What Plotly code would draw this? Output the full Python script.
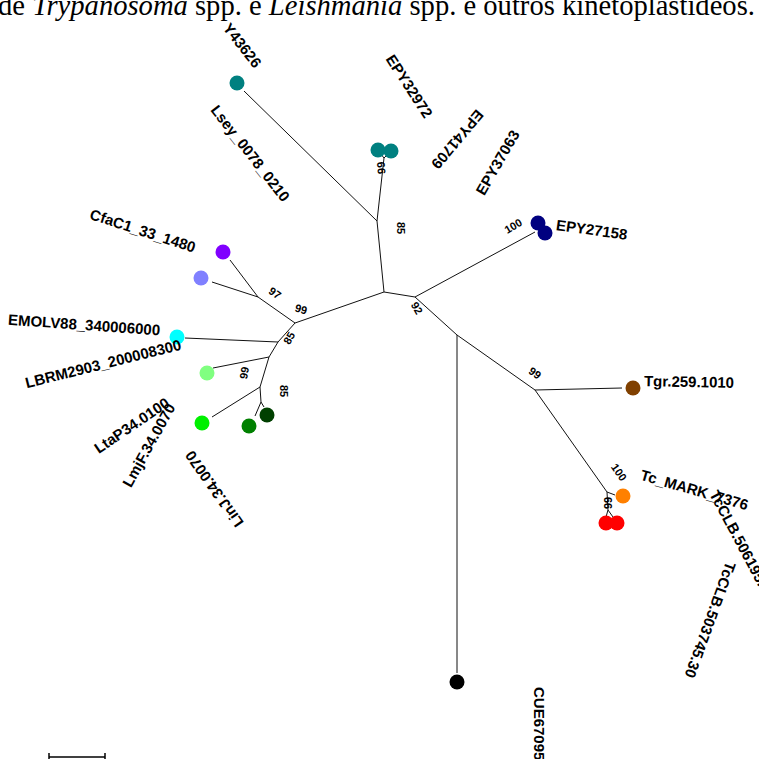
import plotly.graph_objects as go

# ---- tree layout: node coordinates (drawing units, y grows downward) ----
node_pos = {
    "A": (384, 292), "B": (377, 221), "E": (384, 158),
    "C": (295, 323), "F": (258, 297), "G": (278, 342),
    "H": (269, 357), "I": (260, 387), "J": (261, 402),
    "D": (415, 297), "K": (457, 335), "L": (535, 390),
    "M": (607, 492), "N": (608, 510),
    # branch ends at the tips
    "t_lsey": (244, 91), "t_e1": (380, 153), "t_e2": (388, 154),
    "t_purple": (230, 260), "t_lav": (212, 282), "t_cyan": (185, 338),
    "t_lgreen": (213, 368), "t_bgreen": (212, 417), "t_green": (255, 416),
    "t_dgreen": (264, 407), "t_navy": (535, 232), "t_cue": (457, 673),
    "t_tgr": (622, 388), "t_orange": (615, 495), "t_red1": (606, 517),
    "t_red2": (613, 517),
}

branches = [
    ("A", "B"), ("B", "t_lsey"), ("B", "E"), ("E", "t_e1"), ("E", "t_e2"),
    ("A", "C"), ("C", "F"), ("F", "t_purple"), ("F", "t_lav"),
    ("C", "G"), ("G", "t_cyan"), ("G", "H"), ("H", "t_lgreen"),
    ("H", "I"), ("I", "t_bgreen"), ("I", "J"), ("J", "t_green"), ("J", "t_dgreen"),
    ("A", "D"), ("D", "t_navy"), ("D", "K"), ("K", "t_cue"), ("K", "L"),
    ("L", "t_tgr"), ("L", "M"), ("M", "t_orange"), ("M", "N"),
    ("N", "t_red1"), ("N", "t_red2"),
]

# ---- tips (coloured circles) ----
tip_x = [237, 378, 391, 538, 545, 223, 201, 177, 207, 202, 249, 267, 457, 633, 623, 606, 617]
tip_y = [83, 150, 151, 223, 233, 252, 278, 337, 373, 423, 426, 415, 682, 388, 496, 523, 523]
tip_color = ["#008080", "#008080", "#008080", "#000080", "#000080", "#8000FF",
             "#8080FF", "#00FFFF", "#80FF80", "#00F000", "#008000", "#004000",
             "#000000", "#804000", "#FF8000", "#FF0000", "#FF0000"]

# ---- sequence labels: text, centre x, centre y, angle ----
seq_text = ["Y43626", "Lsey_0078_0210", "EPY32972", "EPY41709", "EPY37063",
            "EPY27158", "CfaC1_33_1480", "EMOLV88_340006000", "LBRM2903_200008300",
            "LtaP34.0100", "LmjF.34.0070", "LinJ.34.0070", "Tgr.259.1010",
            "Tc_MARK_7376", "TcCLB.506195.60", "TcCLB.503745.30", "CUE67095"]
seq_x = [243, 251, 410, 458, 497, 592, 143, 84, 103, 131, 148, 214, 689, 694, 743, 711, 540]
seq_y = [45, 153, 86, 140, 162, 229, 230, 324, 363, 425, 445, 490, 381, 489, 545, 620, 723]
seq_angle = [52, 52, 57, 130, -60, 8, 18, 4, -14, -34, -61, -125, 1, 16, 62, 110, 90]

# ---- bootstrap support values ----
boot_text = ["85", "99", "97", "99", "85", "99", "85", "92", "100", "99", "100", "99"]
boot_x = [401, 381, 275, 301, 289, 244, 284, 417, 513, 535, 619, 608]
boot_y = [228, 168, 293, 309, 338, 373, 391, 308, 226, 373, 472, 503]
boot_angle = [90, -95, 35, 15, -60, -80, 90, 60, -30, 35, 55, -90]

caption = "de <i>Trypanosoma</i> spp. e <i>Leishmania</i> spp. e outros kinetoplastídeos."

fig = go.Figure()

# branches as one polyline with gaps
bx, by = [], []
for p, c in branches:
    bx += [node_pos[p][0], node_pos[c][0], None]
    by += [node_pos[p][1], node_pos[c][1], None]
fig.add_trace(go.Scatter(x=bx, y=by, mode="lines",
                         line=dict(color="#111111", width=1),
                         hoverinfo="skip", showlegend=False))

fig.add_trace(go.Scatter(x=tip_x, y=tip_y, mode="markers",
                         marker=dict(size=15, color=tip_color, line=dict(width=0)),
                         hoverinfo="skip", showlegend=False))

annotations = []
for t, x, y, a in zip(seq_text, seq_x, seq_y, seq_angle):
    annotations.append(dict(x=x, y=y, xref="x", yref="y", text=f"<b>{t}</b>",
                            showarrow=False, textangle=a,
                            font=dict(family="Liberation Sans", size=15, color="#000")))
for t, x, y, a in zip(boot_text, boot_x, boot_y, boot_angle):
    annotations.append(dict(x=x, y=y, xref="x", yref="y", text=f"<b>{t}</b>",
                            showarrow=False, textangle=a,
                            font=dict(family="Liberation Sans", size=11, color="#000")))
annotations.append(dict(x=757, y=5, xref="x", yref="y", text=caption,
                        showarrow=False, xanchor="right", yanchor="middle",
                        font=dict(family="Liberation Serif", size=28.6, color="#000")))

# scale bar
shapes = [
    dict(type="line", x0=49, x1=105, y0=757, y1=757, line=dict(color="#000", width=1.5)),
    dict(type="line", x0=49, x1=49, y0=753, y1=760, line=dict(color="#000", width=1.5)),
    dict(type="line", x0=105, x1=105, y0=753, y1=760, line=dict(color="#000", width=1.5)),
]

fig.update_layout(
    width=759, height=759,
    margin=dict(l=0, r=0, t=0, b=0),
    paper_bgcolor="white", plot_bgcolor="white",
    xaxis=dict(range=[0, 759], visible=False, fixedrange=True),
    yaxis=dict(range=[759, 0], visible=False, fixedrange=True),
    annotations=annotations, shapes=shapes,
)

fig.write_html("out.html")
